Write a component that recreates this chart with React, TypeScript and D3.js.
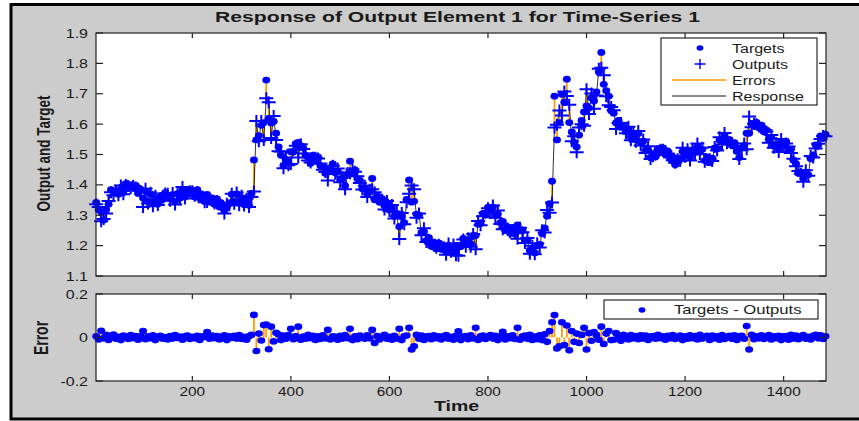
import React from 'react';
import * as d3 from 'd3';

const timeStart = 5;
const timeStep = 5;

const targets = [
  1.342, 1.318, 1.311, 1.284, 1.318, 1.336, 1.384, 1.380, 1.375, 1.369,
  1.386, 1.378, 1.404, 1.389, 1.401, 1.394, 1.398, 1.372, 1.385, 1.357,
  1.379, 1.345, 1.370, 1.340, 1.352, 1.337, 1.364, 1.352, 1.374, 1.362,
  1.355, 1.368, 1.346, 1.371, 1.357, 1.383, 1.361, 1.385, 1.372, 1.382,
  1.360, 1.384, 1.356, 1.367, 1.345, 1.369, 1.345, 1.357, 1.336, 1.354,
  1.327, 1.337, 1.316, 1.326, 1.339, 1.369, 1.346, 1.370, 1.344, 1.357,
  1.335, 1.344, 1.333, 1.372, 1.482, 1.548, 1.562, 1.596, 1.605, 1.745,
  1.618, 1.604, 1.609, 1.570, 1.525, 1.498, 1.464, 1.484, 1.476, 1.509,
  1.508, 1.536, 1.540, 1.524, 1.522, 1.497, 1.492, 1.471, 1.497, 1.478,
  1.492, 1.463, 1.460, 1.438, 1.449, 1.444, 1.469, 1.440, 1.444, 1.417,
  1.422, 1.397, 1.436, 1.478, 1.439, 1.449, 1.420, 1.415, 1.387, 1.391,
  1.370, 1.380, 1.421, 1.351, 1.363, 1.343, 1.355, 1.331, 1.341, 1.317,
  1.324, 1.297, 1.306, 1.262, 1.295, 1.276, 1.352, 1.416, 1.343, 1.346,
  1.304, 1.300, 1.243, 1.246, 1.216, 1.226, 1.198, 1.211, 1.190, 1.209,
  1.188, 1.200, 1.181, 1.201, 1.183, 1.194, 1.176, 1.195, 1.197, 1.224,
  1.203, 1.216, 1.206, 1.234, 1.233, 1.270, 1.273, 1.306, 1.301, 1.326,
  1.318, 1.327, 1.300, 1.304, 1.275, 1.280, 1.250, 1.262, 1.241, 1.260,
  1.238, 1.268, 1.249, 1.249, 1.218, 1.219, 1.185, 1.189, 1.176, 1.200,
  1.204, 1.239, 1.258, 1.297, 1.338, 1.412, 1.692, 1.548, 1.605, 1.698,
  1.672, 1.748, 1.605, 1.574, 1.540, 1.525, 1.564, 1.612, 1.640, 1.660,
  1.653, 1.686, 1.676, 1.706, 1.772, 1.836, 1.731, 1.710, 1.692, 1.644,
  1.636, 1.604, 1.612, 1.589, 1.597, 1.576, 1.582, 1.558, 1.567, 1.549,
  1.569, 1.540, 1.544, 1.514, 1.516, 1.489, 1.501, 1.493, 1.520, 1.513,
  1.522, 1.500, 1.511, 1.486, 1.492, 1.466, 1.487, 1.488, 1.510, 1.498,
  1.511, 1.490, 1.515, 1.507, 1.527, 1.514, 1.517, 1.480, 1.491, 1.473,
  1.488, 1.521, 1.519, 1.547, 1.544, 1.564, 1.540, 1.549, 1.531, 1.539,
  1.510, 1.490, 1.522, 1.530, 1.570, 1.570, 1.602, 1.593, 1.606, 1.588,
  1.597, 1.575, 1.580, 1.550, 1.555, 1.528, 1.535, 1.516, 1.539, 1.529,
  1.543, 1.516, 1.517, 1.481, 1.470, 1.438, 1.441, 1.421, 1.442, 1.433,
  1.486, 1.498, 1.532, 1.531, 1.561, 1.554, 1.566,
];

// Errors (targets - outputs) at the same time steps
const errors = [
  0.006, -0.009, 0.031, -0.004, 0.012, -0.011, 0.008, 0.014, -0.006, 0.003,
  -0.012, 0.009, 0.004, -0.007, 0.011, -0.003, 0.007, -0.010, 0.005, 0.030,
  -0.008, 0.006, -0.004, 0.010, -0.012, 0.003, 0.008, -0.006, 0.002, -0.009,
  0.007, -0.005, 0.011, -0.002, 0.004, -0.010, 0.006, 0.009, -0.007, 0.003,
  -0.004, 0.008, -0.011, 0.005, 0.002, 0.025, -0.006, 0.009, -0.003, 0.007,
  -0.009, 0.004, 0.010, -0.012, 0.006, -0.002, 0.008, -0.005, 0.011, -0.007,
  0.003, -0.010, 0.006, 0.012, 0.104, -0.062, 0.018, -0.014, 0.057, 0.060,
  -0.054, 0.050, -0.018, 0.022, 0.014, -0.012, 0.009, -0.006, 0.011, 0.040,
  -0.008, 0.007, 0.050, -0.010, 0.004, -0.006, 0.012, -0.003, 0.008, -0.011,
  0.005, -0.007, 0.010, -0.004, 0.035, -0.009, 0.006, 0.003, -0.010, 0.008,
  -0.005, 0.011, -0.003, 0.040, -0.012, 0.006, -0.008, 0.009, 0.002, -0.006,
  0.010, -0.004, 0.035, -0.025, 0.007, -0.009, 0.004, 0.012, -0.006, 0.003,
  -0.010, 0.008, -0.005, 0.040, -0.012, 0.006, 0.009, 0.045, -0.055, -0.040,
  0.012, -0.006, 0.009, -0.011, 0.004, 0.007, -0.008, 0.010, -0.003, 0.006,
  -0.009, 0.005, 0.011, -0.006, 0.003, -0.010, 0.008, 0.028, -0.012, 0.004,
  0.007, -0.008, 0.010, -0.004, 0.045, -0.011, 0.006, 0.009, -0.007, 0.003,
  0.011, -0.005, 0.008, -0.012, 0.004, 0.026, -0.009, 0.006, -0.003, 0.010,
  -0.007, 0.045, -0.010, 0.005, 0.009, -0.006, 0.012, -0.011, 0.004, -0.008,
  0.010, -0.012, 0.015, -0.020, 0.030, 0.070, 0.103, -0.050, -0.040, 0.070,
  -0.035, 0.055, -0.059, 0.030, -0.020, 0.018, -0.025, 0.012, 0.045, -0.055,
  0.020, -0.015, 0.025, 0.012, -0.010, 0.050, -0.030, 0.018, 0.030, -0.012,
  -0.010, 0.020, 0.008, -0.015, 0.012, 0.006, -0.009, 0.011, -0.004, 0.007,
  -0.008, 0.010, -0.005, 0.009, -0.011, 0.004, 0.007, -0.006, 0.012, -0.003,
  0.006, -0.010, 0.008, -0.004, 0.011, -0.007, 0.003, 0.009, -0.012, 0.005,
  -0.006, 0.010, -0.003, 0.007, -0.009, 0.012, -0.005, 0.004, 0.008, -0.011,
  0.009, -0.004, 0.006, -0.010, 0.011, -0.007, 0.003, 0.008, -0.006, 0.010,
  -0.011, 0.005, 0.008, -0.006, 0.053, -0.055, 0.012, -0.008, 0.006, -0.004,
  0.010, -0.007, 0.004, 0.011, -0.009, 0.006, -0.003, 0.008, -0.012, 0.005,
  0.007, -0.010, 0.012, -0.005, 0.009, -0.008, 0.004, 0.011, -0.006, 0.003,
  -0.009, 0.008, 0.012, -0.004, 0.010, -0.007, 0.006,
];

const xTicks = [200, 400, 600, 800, 1000, 1200, 1400];
const yTicksTop = [1.1, 1.2, 1.3, 1.4, 1.5, 1.6, 1.7, 1.8, 1.9];
const yTicksErr = [-0.2, 0, 0.2];
const chartTitle = 'Response of Output Element 1 for Time-Series 1';
const yLabelTop = 'Output and Target';
const yLabelErr = 'Error';
const xLabel = 'Time';
const legendTop = ['Targets', 'Outputs', 'Errors', 'Response'];
const legendErr = 'Targets - Outputs';

const BLUE = '#0000ff';
const ORANGE = '#ff9c00';
const FONT = "Arial, 'Liberation Sans', Helvetica, sans-serif";
const INK = '#1a1a1a';

function T({ x, y, anchor = 'start', size = 12, weight = 400, sx = 1.28, rotate = 0, children }: any) {
  return (
    <text
      transform={`translate(${x},${y}) scale(${sx},1)${rotate ? ` rotate(${rotate})` : ''}`}
      textAnchor={anchor}
      fontFamily={FONT}
      fontSize={size}
      fontWeight={weight}
      fill={INK}
    >
      {children}
    </text>
  );
}

const PLUS = 'M-7,0H7M0,-6V6';
const PLUS_LEGEND = 'M-5.5,0H5.5M0,-5V5';

export default function App() {
  const time = targets.map((_, i) => timeStart + i * timeStep);
  const outputs = targets.map((v, i) => v - errors[i]);

  const x = d3.scaleLinear().domain([4.5, 1486]).range([96, 826]);
  const y = d3.scaleLinear().domain([1.1, 1.9]).range([276, 33]);
  const ye = d3.scaleLinear().domain([-0.2, 0.2]).range([381, 294]);

  const responseLine = d3
    .line<number>()
    .x((_, i) => x(time[i]))
    .y((d) => y(d))(outputs) as string;

  const [x0, x1] = x.range();
  const [yb, yt] = y.range();
  const [eb, et] = ye.range();

  const axisColor = '#222';

  return (
    <svg
      width={859}
      height={421}
      style={{ position: 'absolute', left: 0, top: 0, background: '#fff' }}
    >
      <rect x={0} y={0} width={859} height={421} fill="#fff" />
      <rect x={11} y={4.5} width={860} height={414.5} fill="#cccccc" stroke="#000" strokeWidth={3} />

      {/* Title */}
      <text
        x={457.5}
        y={22}
        textAnchor="middle"
        fontFamily={FONT}
        fontSize={15}
        fontWeight={700}
        fill={INK}
        textLength={485}
        lengthAdjust="spacingAndGlyphs"
      >
        {chartTitle}
      </text>

      {/* ---------- Top axes ---------- */}
      <rect x={x0} y={yt} width={x1 - x0} height={yb - yt} fill="#fff" />

      {/* errors */}
      <g stroke={ORANGE} strokeWidth={1.8}>
        {time.map((t, i) => (
          <line key={i} x1={x(t)} x2={x(t)} y1={y(targets[i])} y2={y(outputs[i])} />
        ))}
      </g>
      {/* response */}
      <path d={responseLine} fill="none" stroke="#000" strokeWidth={0.8} />
      {/* targets */}
      <g fill={BLUE}>
        {time.map((t, i) => (
          <ellipse key={i} cx={x(t)} cy={y(targets[i])} rx={4} ry={3.4} />
        ))}
      </g>
      {/* outputs */}
      <g stroke={BLUE} strokeWidth={2} fill="none">
        {time.map((t, i) => (
          <path key={i} d={PLUS} transform={`translate(${x(t)},${y(outputs[i])})`} />
        ))}
      </g>

      {/* axes box & ticks */}
      <rect x={x0} y={yt} width={x1 - x0} height={yb - yt} fill="none" stroke={axisColor} strokeWidth={1.2} />
      <g stroke={axisColor} strokeWidth={1.2}>
        {xTicks.map((t) => (
          <g key={t}>
            <line x1={x(t)} x2={x(t)} y1={yt} y2={yt + 5} />
            <line x1={x(t)} x2={x(t)} y1={yb} y2={yb - 5} />
          </g>
        ))}
        {yTicksTop.map((v) => (
          <g key={v}>
            <line x1={x0} x2={x0 + 7} y1={y(v)} y2={y(v)} />
            <line x1={x1} x2={x1 - 7} y1={y(v)} y2={y(v)} />
          </g>
        ))}
      </g>
      {yTicksTop.map((v) => (
        <T key={v} x={88} y={y(v) + 4.5} anchor="end" size={12.5}>
          {d3.format('.1f')(v)}
        </T>
      ))}
      <T x={50} y={153.5} anchor="middle" size={13.5} weight={700} sx={1.3} rotate={-90}>
        {yLabelTop}
      </T>

      {/* legend top */}
      <rect x={661} y={38} width={156} height={67} fill="#fff" stroke="#000" strokeWidth={1} />
      <ellipse cx={700} cy={48} rx={3.4} ry={2.8} fill={BLUE} />
      <path d={PLUS_LEGEND} transform="translate(700,64)" stroke={BLUE} strokeWidth={1.4} fill="none" />
      <line x1={672} x2={726} y1={80} y2={80} stroke={ORANGE} strokeWidth={1.6} />
      <line x1={672} x2={726} y1={96} y2={96} stroke="#000" strokeWidth={0.9} />
      {legendTop.map((s, i) => (
        <T key={s} x={732} y={52.5 + i * 16} size={12.5}>
          {s}
        </T>
      ))}

      {/* ---------- Error axes ---------- */}
      <rect x={x0} y={et} width={x1 - x0} height={eb - et} fill="#fff" />
      <g stroke={ORANGE} strokeWidth={1.8}>
        {time.map((t, i) => (
          <line key={i} x1={x(t)} x2={x(t)} y1={ye(0)} y2={ye(errors[i])} />
        ))}
      </g>
      <g fill={BLUE}>
        {time.map((t, i) => (
          <ellipse key={i} cx={x(t)} cy={ye(errors[i])} rx={4} ry={3.3} />
        ))}
      </g>
      <rect x={x0} y={et} width={x1 - x0} height={eb - et} fill="none" stroke={axisColor} strokeWidth={1.2} />
      <g stroke={axisColor} strokeWidth={1.2}>
        {xTicks.map((t) => (
          <g key={t}>
            <line x1={x(t)} x2={x(t)} y1={et} y2={et + 5} />
            <line x1={x(t)} x2={x(t)} y1={eb} y2={eb - 5} />
          </g>
        ))}
        {yTicksErr.map((v) => (
          <g key={v}>
            <line x1={x0} x2={x0 + 7} y1={ye(v)} y2={ye(v)} />
            <line x1={x1} x2={x1 - 7} y1={ye(v)} y2={ye(v)} />
          </g>
        ))}
      </g>
      {yTicksErr.map((v) => (
        <T key={v} x={88} y={ye(v) + 4.5} anchor="end" size={12.5}>
          {v === 0 ? '0' : d3.format('.1f')(v).replace('−', '-')}
        </T>
      ))}
      {xTicks.map((t) => (
        <T key={t} x={x(t)} y={396} anchor="middle" size={12}>
          {String(t)}
        </T>
      ))}
      <T x={47.5} y={338} anchor="middle" size={14} weight={700} sx={1.5} rotate={-90}>
        {yLabelErr}
      </T>
      <T x={456.5} y={411} anchor="middle" size={15} weight={700} sx={1.3}>
        {xLabel}
      </T>

      {/* legend bottom */}
      <rect x={604} y={300} width={214} height={19} fill="#fff" stroke="#000" strokeWidth={1} />
      <ellipse cx={642} cy={310} rx={3.4} ry={2.8} fill={BLUE} />
      <T x={674} y={314} size={13}>
        {legendErr}
      </T>
    </svg>
  );
}
